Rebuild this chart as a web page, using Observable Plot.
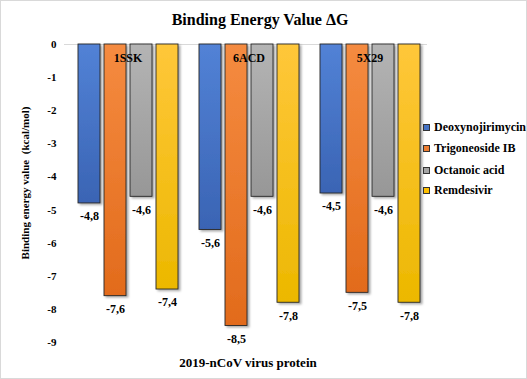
<!DOCTYPE html>
<html><head><meta charset="utf-8">
<script src="https://cdn.jsdelivr.net/npm/d3@7"></script>
<script src="https://cdn.jsdelivr.net/npm/@observablehq/plot@0.6"></script>
<style>
html,body{margin:0;padding:0;background:#fff;}
#wrap{position:relative;width:527px;height:379px;overflow:hidden;font-family:"Liberation Serif","Times New Roman",serif;font-weight:bold;color:#000;}
#chart{position:absolute;left:0;top:0;}
#chart svg text{font-family:"Liberation Serif","Times New Roman",serif !important;font-weight:bold !important;}
#border{position:absolute;left:0;top:0;width:527px;height:379px;box-sizing:border-box;border:1px solid #d9d9d9;pointer-events:none;}
.ov{position:absolute;white-space:nowrap;}
#title{left:0;width:520px;top:10px;text-align:center;font-size:16px;line-height:20px;}
#xlab{left:0;width:496px;top:355px;text-align:center;font-size:13px;line-height:16px;}
#ylab{left:-125px;width:300px;top:176px;height:14px;line-height:14px;text-align:center;font-size:11px;transform:rotate(-90deg);}
.leg{position:absolute;left:423px;font-size:12px;line-height:14px;height:14px;}
.leg i{display:inline-block;width:5px;height:5px;border:1px solid #333;margin-right:4px;vertical-align:0px;}
</style></head><body>
<div id="wrap">
  <div id="chart"></div>
  <div class="ov" id="title">Binding Energy Value ΔG</div>
  <div class="ov" id="xlab">2019-nCoV virus protein</div>
  <div class="ov" id="ylab">Binding energy value&nbsp;&nbsp;(kcal/mol)</div>
  <div id="legend"></div>
  <div id="border"></div>
</div>
<script>
const proteins = ["1SSK", "6ACD", "5X29"];
const compounds = ["Deoxynojirimycin", "Trigoneoside IB", "Octanoic acid", "Remdesivir"];
const deoxynojirimycin = [-4.8, -5.6, -4.5];
const trigoneosideIB = [-7.6, -8.5, -7.5];
const octanoicAcid = [-4.6, -4.6, -4.6];
const remdesivir = [-7.4, -7.8, -7.8];
const yTicks = [0, -1, -2, -3, -4, -5, -6, -7, -8, -9];

const seriesValues = [deoxynojirimycin, trigoneosideIB, octanoicAcid, remdesivir];
const swatch = ["#4472C4", "#ED7D31", "#A5A5A5", "#FFC000"];
const gradTop = ["#5282d6", "#f58b40", "#b4b4b4", "#ffc73a"];
const gradBot = ["#3a64b4", "#e26b1c", "#979797", "#ecb800"];

const rows = [];
compounds.forEach((c, ci) => proteins.forEach((p, pi) => rows.push({protein: p, compound: c, value: seriesValues[ci][pi]})));
const fmt = v => String(v).replace(".", ",");

const chart = Plot.plot({
  width: 527,
  height: 379,
  marginTop: 44,
  marginBottom: 37,
  marginLeft: 63,
  marginRight: 99,
  style: "font-family: 'Liberation Serif','Times New Roman',serif; font-size: 11px; font-weight: bold; color: #000; background: transparent;",
  fx: {domain: proteins, padding: 0, axis: null, label: null},
  x: {domain: compounds, paddingInner: 0.17, paddingOuter: 0.38, align: 0.64, axis: null},
  y: {domain: [-9, 0], ticks: yTicks, tickFormat: d => String(d), tickSize: 0, tickPadding: 8, label: null},
  color: {domain: compounds, range: compounds.map((c, i) => `url(#grad${i})`)},
  marks: [
    Plot.ruleY([0], {stroke: "#d9d9d9", strokeWidth: 1}),
    Plot.barY(rows, {fx: "protein", x: "compound", y: "value", fill: "compound", stroke: "#262626", strokeWidth: 0.9}),
    Plot.text(rows, {fx: "protein", x: "compound", y: "value", text: d => fmt(d.value), dy: 13, lineAnchor: "middle", fontSize: 12, fontWeight: "bold", fill: "#000"}),
    Plot.text(proteins, {fx: d => d, text: d => d, frameAnchor: "top", dy: 14, dx: 3, lineAnchor: "middle", fontSize: 12, fontWeight: "bold", fill: "#000"})
  ]
});

const svg = d3.select(chart);
svg.attr("font-family", "'Liberation Serif','Times New Roman',serif").attr("font-weight", "bold");
svg.selectAll("g[aria-label^='y-axis']").attr("font-family", "'Liberation Serif','Times New Roman',serif").attr("font-size", 11).attr("font-weight", "bold").attr("fill", "#000");
const defs = svg.insert("defs", ":first-child");
swatch.forEach((c, i) => {
  const g = defs.append("linearGradient").attr("id", `grad${i}`).attr("x1", 0).attr("y1", 0).attr("x2", 0).attr("y2", 1);
  g.append("stop").attr("offset", "0%").attr("stop-color", gradTop[i]);
  g.append("stop").attr("offset", "100%").attr("stop-color", gradBot[i]);
});
const f = defs.append("filter").attr("id", "shadow").attr("x", "-20%").attr("y", "-5%").attr("width", "150%").attr("height", "115%");
f.append("feDropShadow").attr("dx", 2).attr("dy", 1.5).attr("stdDeviation", 1).attr("flood-color", "#000").attr("flood-opacity", 0.35);
svg.selectAll("g[aria-label='bar'] rect").attr("filter", "url(#shadow)");

document.getElementById("chart").appendChild(chart);

const legendTops = [120, 141, 163, 183];
const legend = document.getElementById("legend");
compounds.forEach((c, i) => {
  const d = document.createElement("div");
  d.className = "leg";
  d.style.top = legendTops[i] + "px";
  d.innerHTML = `<i style="background:${swatch[i]}"></i>${c}`;
  legend.appendChild(d);
});
</script>
</body></html>
